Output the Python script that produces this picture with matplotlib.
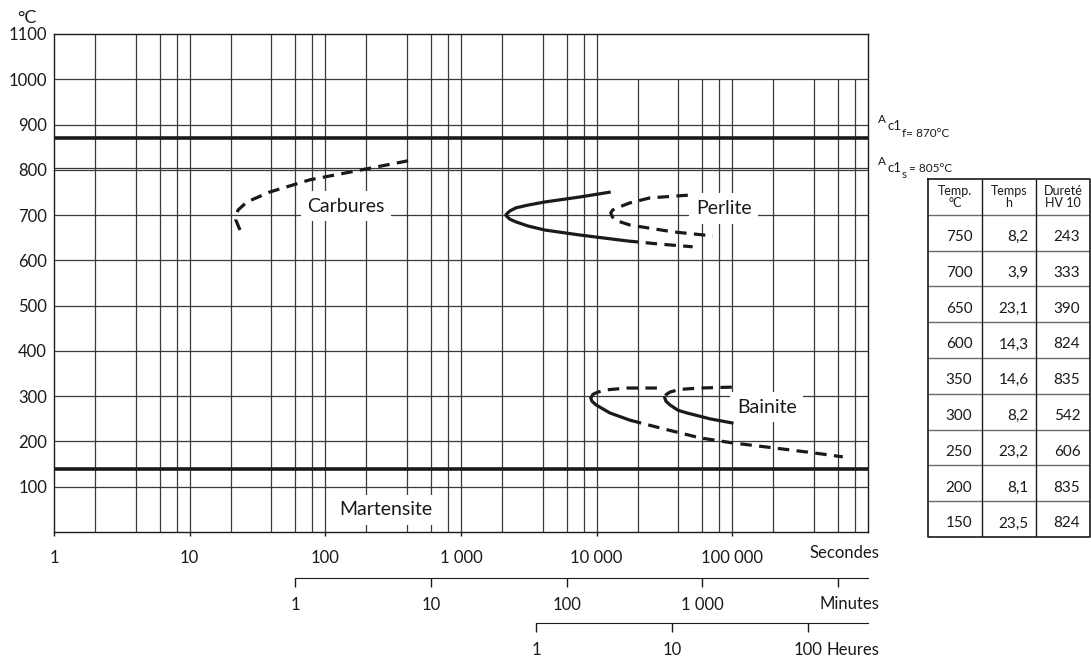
import numpy as np
import matplotlib
matplotlib.use("Agg")
import matplotlib.pyplot as plt
from matplotlib.ticker import NullLocator, FixedLocator, FixedFormatter

plt.rcParams["font.family"] = ["Lato", "DejaVu Sans"]
plt.rcParams["text.color"] = "#1a1a1a"

W, H = 1091, 661
INK = "#1a1a1a"
GRID = "#3a3a3a"

# --- curves (time in s, temperature in degC) ---
carb_t = [23.5, 21.9, 22.2, 22.7, 26.4, 39, 77, 152, 442]
carb_T = [667, 689, 700, 711, 729, 751, 778, 795, 822]

perl_solid_t = [12700, 7520, 4150, 3110, 2540, 2290, 2180, 2140, 2180, 2290, 2540, 3110, 4150, 7520, 16700]
perl_solid_T = [751, 740, 729, 722, 716, 709, 703, 700, 697, 691, 685, 676, 667, 656, 643]
perl_tail_t = [16700, 29000, 51000]
perl_tail_T = [643, 636, 630]
perl_dash_t = [47000, 24700, 17600, 14100, 13100, 12700, 13000, 13600, 17600, 36400, 71800]
perl_dash_T = [744, 738, 727, 716, 711, 705, 697, 689, 678, 663, 654]

bain1_up_t = [27800, 16700, 11900, 10200, 9380, 9060]
bain1_up_T = [318, 318, 314, 309, 304, 296]
bain1_lo_t = [9060, 9220, 9860, 12500, 17600]
bain1_lo_T = [296, 289, 281, 263, 247]
bain1_tail_t = [17600, 29200, 57600, 99200, 199000, 392000, 652000]
bain1_tail_T = [247, 230, 208, 197, 186, 175, 166]

bain2_up_t = [99200, 57600, 41000, 34600, 32400, 31800]
bain2_up_T = [320, 318, 315, 309, 303, 296]
bain2_lo_t = [31800, 32400, 34600, 39700, 46200, 68300, 99200]
bain2_lo_T = [296, 289, 281, 269, 263, 250, 241]

ac1f = 870
ac1s = 805
ms = 140

# --- table ---
tab_temp = [750, 700, 650, 600, 350, 300, 250, 200, 150]
tab_time = ["8,2", "3,9", "23,1", "14,3", "14,6", "8,2", "23,2", "8,1", "23,5"]
tab_hv = [243, 333, 390, 824, 835, 542, 606, 835, 824]
tab_head = ["Temp.\n°C", "Temps\nh", "Dureté\nHV 10"]

sec_ticks = [1, 10, 100, 1000, 10000, 100000]
sec_labels = ["1", "10", "100", "1 000", "10 000", "100 000"]
min_ticks = [1, 10, 100, 1000, 10000]
min_labels = ["1", "10", "100", "1 000", ""]
h_ticks = [1, 10, 100]
h_labels = ["1", "10", "100"]


def px(x, y):
    return x / W, 1 - y / H


fig = plt.figure(figsize=(W / 100, H / 100), dpi=100)
ax = fig.add_axes([54 / W, 1 - 532 / H, 814 / W, 498 / H])
ax.set_xscale("log")
ax.set_xlim(1, 1e6)
ax.set_ylim(0, 1100)

# grid: vertical lines at 1,2,4,6,8 x 10^k ; upper band only on the left part
xs, tops = [], []
for k in range(6):
    for n in (1, 2, 4, 6, 8):
        v = n * 10 ** k
        if v == 1:
            continue
        xs.append(v)
        tops.append(1100 if v <= 1e4 else 1000)
ax.vlines(xs, 0, tops, color=GRID, lw=0.9, zorder=1)
ax.hlines(list(range(100, 1100, 100)) + [ac1s], 1, 1e6, color=GRID, lw=0.9, zorder=1)
ax.axhline(ac1f, color=INK, lw=2.6, zorder=1.5)
ax.axhline(ms, color=INK, lw=2.6, zorder=1.5)

for s in ax.spines.values():
    s.set_color(INK)
    s.set_linewidth(1.0)

ax.set_yticks(range(100, 1200, 100))
ax.tick_params(axis="y", length=0, pad=5, labelsize=12, colors=INK)
ax.xaxis.set_major_locator(FixedLocator(sec_ticks))
ax.xaxis.set_major_formatter(FixedFormatter(sec_labels))
ax.xaxis.set_minor_locator(NullLocator())
ax.tick_params(axis="x", direction="out", length=3, width=1, pad=10, labelsize=12, colors=INK)

# curves
cw = 2.3
dash = (0, (3.6, 2.3))
ax.plot(carb_t, carb_T, color=INK, lw=cw, ls=dash, zorder=3)
ax.plot(perl_solid_t, perl_solid_T, color=INK, lw=cw, zorder=3, solid_capstyle="butt")
ax.plot(perl_tail_t, perl_tail_T, color=INK, lw=cw, ls=dash, zorder=3)
ax.plot(perl_dash_t, perl_dash_T, color=INK, lw=cw, ls=dash, zorder=3)
ax.plot(bain1_up_t, bain1_up_T, color=INK, lw=cw, ls=dash, zorder=3)
ax.plot(bain1_lo_t, bain1_lo_T, color=INK, lw=cw, zorder=3)
ax.plot(bain1_tail_t, bain1_tail_T, color=INK, lw=cw, ls=dash, zorder=3)
ax.plot(bain2_up_t, bain2_up_T, color=INK, lw=cw, ls=dash, zorder=3)
ax.plot(bain2_lo_t, bain2_lo_T, color=INK, lw=cw, zorder=3)

box = dict(facecolor="white", edgecolor="none", boxstyle="square,pad=0.35")
ax.text(142, 720, "Carbures", ha="center", va="center", fontsize=14, bbox=box, zorder=2)
ax.text(86500, 715, "Perlite", ha="center", va="center", fontsize=14, bbox=box, zorder=2)
ax.text(179000, 276, "Bainite", ha="center", va="center", fontsize=14, bbox=box, zorder=2)
ax.text(280, 49, "Martensite", ha="center", va="center", fontsize=14, bbox=box, zorder=2)

# time axes in minutes and hours
sec_min = ax.secondary_xaxis(-0.0924, functions=(lambda s: s / 60, lambda m: m * 60))
sec_h = ax.secondary_xaxis(-0.1827, functions=(lambda s: s / 3600, lambda h: h * 3600))
for sa, tk, lb, hi in ((sec_min, min_ticks, min_labels, 1e6 / 60),
                       (sec_h, h_ticks, h_labels, 1e6 / 3600)):
    sa.xaxis.set_major_locator(FixedLocator(tk))
    sa.xaxis.set_major_formatter(FixedFormatter(lb))
    sa.xaxis.set_minor_locator(NullLocator())
    sa.tick_params(direction="out", length=6.5, width=1, pad=7, labelsize=12, colors=INK)
    sa.spines["bottom"].set_bounds(1, hi)
    sa.spines["bottom"].set_color(INK)

ax.text(1.0135, -0.042, "Secondes", transform=ax.transAxes, ha="right", va="center", fontsize=12)
ax.text(1.0135, -0.1446, "Minutes", transform=ax.transAxes, ha="right", va="center", fontsize=12)
ax.text(1.0135, -0.237, "Heures", transform=ax.transAxes, ha="right", va="center", fontsize=12)

fig.text(*px(17, 23), "°C", fontsize=13, va="baseline")

# Ac1 labels
fig.text(*px(878, 123), "A", fontsize=8.5, va="baseline")
fig.text(*px(888, 130), "c1", fontsize=9.5, va="baseline")
fig.text(*px(902, 137), "f= 870°C", fontsize=8.5, va="baseline")
fig.text(*px(878, 165), "A", fontsize=8.5, va="baseline")
fig.text(*px(888, 172), "c1", fontsize=9.5, va="baseline")
fig.text(*px(902, 178), "s", fontsize=8.5, va="baseline")
fig.text(*px(909, 172), "= 805°C", fontsize=8.5, va="baseline")

# table
tax = fig.add_axes([928 / W, 1 - 537 / H, 162 / W, 358 / H])
tax.set_xlim(0, 3)
tax.set_ylim(10, 0)
tax.axis("off")
nrow = len(tab_temp) + 1
tax.hlines(np.arange(1, nrow), 0, 3, color="#6a6a6a", lw=1)
tax.vlines([1, 2], 0, nrow, color=INK, lw=1)
tax.plot([0, 3, 3, 0, 0], [0, 0, nrow, nrow, 0], color=INK, lw=1.2, clip_on=False)
for j, h in enumerate(tab_head):
    tax.text(j + 0.5, 0.5, h, ha="center", va="center", fontsize=9, linespacing=0.95)
for i in range(len(tab_temp)):
    yy = i + 1.62
    tax.text(0.82, yy, str(tab_temp[i]), ha="right", va="center", fontsize=11)
    tax.text(1.86, yy, tab_time[i], ha="right", va="center", fontsize=11)
    tax.text(2.82, yy, str(tab_hv[i]), ha="right", va="center", fontsize=11)

fig.savefig("out.png", dpi=100)
